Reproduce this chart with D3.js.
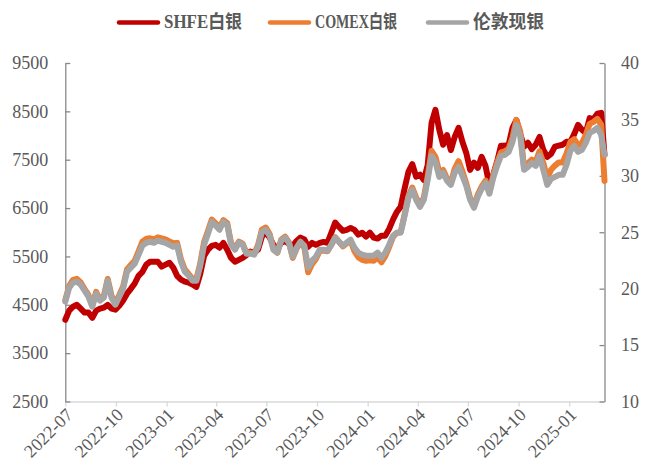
<!DOCTYPE html>
<html lang="zh">
<head>
<meta charset="UTF-8">
<title>白银价格走势</title>
<script src="https://d3js.org/d3.v7.min.js"></script>
<style>
  body { margin: 0; background: #fff; }
  .axis-label { font-family: "Liberation Serif", "Times New Roman", serif; font-size: 18px; fill: #595959; }
  .legend text { font-family: "Liberation Serif", "Noto Sans CJK SC", serif; font-size: 18px; font-weight: bold; fill: #595959; }
</style>
</head>
<body>
<div id="chart"></div>
<script>
// weekly samples
const dates = [
  "2022-07-01","2022-07-08","2022-07-15","2022-07-22","2022-07-29","2022-08-05","2022-08-12","2022-08-19","2022-08-26","2022-09-02",
  "2022-09-09","2022-09-16","2022-09-23","2022-09-30","2022-10-07","2022-10-14","2022-10-21","2022-10-28","2022-11-04","2022-11-11",
  "2022-11-18","2022-11-25","2022-12-02","2022-12-09","2022-12-16","2022-12-23","2022-12-30","2023-01-06","2023-01-13","2023-01-20",
  "2023-01-27","2023-02-03","2023-02-10","2023-02-17","2023-02-24","2023-03-03","2023-03-10","2023-03-17","2023-03-24","2023-03-31",
  "2023-04-07","2023-04-14","2023-04-21","2023-04-28","2023-05-05","2023-05-12","2023-05-19","2023-05-26","2023-06-02","2023-06-09",
  "2023-06-16","2023-06-23","2023-06-30","2023-07-07","2023-07-14","2023-07-21","2023-07-28","2023-08-04","2023-08-11","2023-08-18",
  "2023-08-25","2023-09-01","2023-09-08","2023-09-15","2023-09-22","2023-09-29","2023-10-06","2023-10-13","2023-10-20","2023-10-27",
  "2023-11-03","2023-11-10","2023-11-17","2023-11-24","2023-12-01","2023-12-08","2023-12-15","2023-12-22","2023-12-29","2024-01-05",
  "2024-01-12","2024-01-19","2024-01-26","2024-02-02","2024-02-09","2024-02-16","2024-02-23","2024-03-01","2024-03-08","2024-03-15",
  "2024-03-22","2024-03-29","2024-04-05","2024-04-12","2024-04-19","2024-04-26","2024-05-03","2024-05-10","2024-05-17","2024-05-24",
  "2024-05-31","2024-06-07","2024-06-14","2024-06-21","2024-06-28","2024-07-05","2024-07-12","2024-07-19","2024-07-26","2024-08-02",
  "2024-08-09","2024-08-16","2024-08-23","2024-08-30","2024-09-06","2024-09-13","2024-09-20","2024-09-27","2024-10-04","2024-10-11",
  "2024-10-18","2024-10-25","2024-11-01","2024-11-08","2024-11-15","2024-11-22","2024-11-29","2024-12-06","2024-12-13","2024-12-20",
  "2024-12-27","2025-01-03","2025-01-10","2025-01-17","2025-01-24","2025-01-31","2025-02-07","2025-02-14","2025-02-21","2025-02-28",
  "2025-03-06"
];

// SHFE白银 (left axis)
const shfe = [
  4190,4380,4460,4500,4420,4340,4340,4230,4380,4420,
  4440,4500,4420,4400,4480,4590,4730,4830,4940,5100,
  5180,5330,5390,5390,5390,5290,5330,5370,5270,5100,
  5020,4980,4960,4920,4870,5140,5510,5640,5720,5740,
  5680,5780,5640,5470,5390,5430,5470,5530,5600,5580,
  5640,5910,6010,5890,5740,5660,5780,5820,5760,5720,
  5820,5890,5850,5700,5780,5740,5780,5800,5780,5990,
  6200,6110,6030,6050,6090,6050,5950,5990,5910,5990,
  5890,5870,5930,5930,6070,6260,6420,6530,6900,7250,
  7410,7150,7190,7080,7390,8260,8530,8120,7810,8010,
  7700,7970,8160,7870,7640,7290,7440,7330,7560,7370,
  6980,7190,7460,7790,7790,7810,8160,8320,8030,7770,
  7850,7720,7810,7970,7700,7560,7620,7770,7790,7810,
  7870,7870,8030,8220,8120,8050,8360,8340,8450,8470,
  7600
];

// COMEX白银 (right axis)
const comex = [
  19.00,20.24,20.78,20.87,20.55,19.97,19.44,18.51,19.71,19.04,
  19.35,20.86,19.35,18.73,19.44,20.20,21.70,22.11,22.46,23.31,
  24.16,24.42,24.46,24.37,24.55,24.46,24.37,24.19,24.02,24.06,
  22.59,21.70,21.30,20.86,20.86,22.24,24.14,25.12,26.13,25.78,
  25.42,26.08,25.81,24.04,23.55,24.17,23.99,23.15,23.20,23.11,
  23.87,25.24,25.42,24.84,23.50,23.19,24.35,24.61,24.12,22.73,
  23.58,24.11,23.66,21.46,22.18,22.63,23.35,23.35,23.31,23.89,
  24.56,24.16,23.76,24.02,24.24,23.33,22.79,22.56,22.47,22.52,
  22.47,22.79,22.34,22.89,23.69,24.59,24.96,25.01,26.56,28.20,
  28.96,28.08,27.41,28.08,29.95,32.22,31.69,30.31,30.52,29.76,
  29.35,30.62,31.30,30.40,29.32,28.03,27.32,28.34,29.05,29.58,
  28.56,30.02,31.18,32.07,32.16,32.42,33.41,34.96,33.94,30.73,
  31.10,31.45,31.23,32.17,31.13,29.80,30.53,30.91,31.19,31.19,
  31.97,33.01,33.25,32.72,32.90,33.62,34.61,34.78,35.05,34.53,
  29.55
];

// 伦敦现银 (right axis)
const london = [
  18.85,20.09,20.53,20.62,20.35,19.82,19.29,18.41,19.56,18.94,
  19.20,20.71,19.20,18.58,19.29,20.00,21.50,21.86,22.21,23.01,
  23.81,24.07,24.16,24.07,24.25,24.16,24.07,23.89,23.72,23.81,
  22.39,21.50,21.15,20.71,20.71,22.04,23.89,24.87,25.93,25.58,
  25.22,25.93,25.66,23.89,23.45,24.07,23.89,23.10,23.10,23.01,
  23.72,25.04,25.22,24.69,23.45,23.19,24.25,24.51,24.07,22.83,
  23.63,24.16,23.81,21.86,22.48,22.83,23.45,23.45,23.36,23.89,
  24.51,24.16,23.81,24.07,24.34,23.63,23.19,23.01,22.92,22.92,
  22.92,23.19,22.74,23.19,23.89,24.69,24.96,24.96,26.46,28.05,
  28.76,27.88,27.26,27.88,29.65,31.77,31.24,29.91,30.27,29.56,
  29.20,30.27,30.80,30.00,29.12,27.88,27.17,28.14,28.85,29.38,
  28.41,29.82,30.88,31.77,31.86,32.12,33.01,34.51,33.54,30.53,
  30.80,31.15,30.88,31.77,30.53,29.20,29.73,29.91,30.09,30.09,
  30.97,32.21,32.65,32.12,32.30,32.92,33.81,33.98,34.25,33.63,
  31.86
];

const leftTicks = [2500, 3500, 4500, 5500, 6500, 7500, 8500, 9500];
const rightTicks = [10, 15, 20, 25, 30, 35, 40];
const xTickLabels = ["2022-07","2022-10","2023-01","2023-04","2023-07","2023-10","2024-01","2024-04","2024-07","2024-10","2025-01"];

const seriesNames = ["SHFE白银", "COMEX白银", "伦敦现银"];
const seriesColors = ["#C00000", "#ED7D31", "#A5A5A5"];

const width = 648, height = 468;
const plot = { left: 65.3, right: 604.5, top: 63, bottom: 401.5 };

const parseDay = d3.timeParse("%Y-%m-%d");
const parseMonth = d3.timeParse("%Y-%m");
const days = dates.map(parseDay);

const svg = d3.select("#chart").append("svg")
  .attr("width", width)
  .attr("height", height)
  .style("display", "block");

svg.append("rect").attr("width", width).attr("height", height).attr("fill", "#fff");

const x = d3.scaleTime()
  .domain([days[0], days[days.length - 1]])
  .range([plot.left, plot.right]);

const yLeft = d3.scaleLinear().domain([2500, 9500]).range([plot.bottom, plot.top]);
const yRight = d3.scaleLinear().domain([10, 40]).range([plot.bottom, plot.top]);

// bottom axis
const xAxis = svg.append("g")
  .attr("transform", `translate(0,${plot.bottom})`)
  .call(d3.axisBottom(x).tickValues(xTickLabels.map(parseMonth)).tickSize(5).tickSizeOuter(0).tickFormat(""));
xAxis.select(".domain").attr("stroke", "#D9D9D9").attr("stroke-width", 1.3);
xAxis.selectAll(".tick line").attr("stroke", "#D9D9D9").attr("stroke-width", 1.3);

svg.append("g").selectAll("text")
  .data(xTickLabels)
  .join("text")
  .attr("class", "axis-label")
  .attr("text-anchor", "end")
  .attr("dy", "0.35em")
  .attr("transform", d => `translate(${x(parseMonth(d)) + 4},${plot.bottom + 10}) rotate(-45)`)
  .text(d => d);

// left axis
const leftAxis = svg.append("g")
  .attr("transform", `translate(${plot.left},0)`)
  .call(d3.axisLeft(yLeft).tickValues(leftTicks).tickSize(-5).tickSizeOuter(0).tickPadding(17).tickFormat(d3.format("d")));

// right axis
const rightAxis = svg.append("g")
  .attr("transform", `translate(${plot.right},0)`)
  .call(d3.axisRight(yRight).tickValues(rightTicks).tickSize(-5).tickSizeOuter(0).tickPadding(16.5));

[leftAxis, rightAxis].forEach(g => {
  g.attr("font-size", null).attr("font-family", null);
  g.select(".domain").attr("stroke", "#898989").attr("stroke-width", 1.3);
  g.selectAll(".tick line").attr("stroke", "#898989").attr("stroke-width", 1.3);
  g.selectAll(".tick text").attr("class", "axis-label");
});

// lines: SHFE on the left axis, COMEX and London on the right axis
const series = [
  { values: shfe, y: yLeft },
  { values: comex, y: yRight },
  { values: london, y: yRight }
];

series.forEach((s, i) => {
  const line = d3.line()
    .x((d, j) => x(days[j]))
    .y(d => s.y(d));
  svg.append("path")
    .datum(s.values)
    .attr("fill", "none")
    .attr("stroke", seriesColors[i])
    .attr("stroke-width", 6)
    .attr("stroke-linejoin", "round")
    .attr("stroke-linecap", "round")
    .attr("d", line);
});

// legend (text squeezed to the narrow widths of the original)
const legendX = [117, 268, 426];
const legendTextWidth = [78, 82, 71];
const legend = svg.append("g").attr("class", "legend");
seriesNames.forEach((name, i) => {
  const g = legend.append("g").attr("transform", `translate(${legendX[i]},22.5)`);
  g.append("line")
    .attr("x1", 2).attr("x2", 41)
    .attr("stroke", seriesColors[i])
    .attr("stroke-width", 4.5)
    .attr("stroke-linecap", "round");
  g.append("text")
    .attr("x", 47)
    .attr("y", -1)
    .attr("dominant-baseline", "central")
    .attr("textLength", legendTextWidth[i])
    .attr("lengthAdjust", "spacingAndGlyphs")
    .text(name);
});
</script>
</body>
</html>
